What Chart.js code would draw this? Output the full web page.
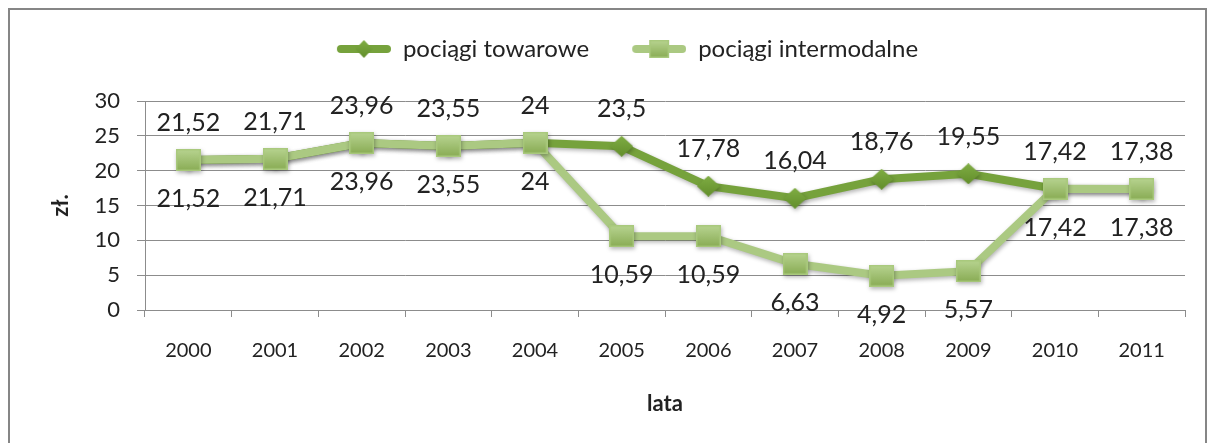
<!DOCTYPE html>
<html lang="pl">
<head>
<meta charset="utf-8">
<title>Pociągi towarowe i intermodalne</title>
<script src="https://cdn.jsdelivr.net/npm/chart.js@4/dist/chart.umd.min.js"></script>
<style>
  html, body { margin: 0; padding: 0; background: #fff; overflow: hidden; }
  #wrap { position: relative; width: 1212px; height: 443px; }
</style>
</head>
<body>
<div id="wrap"><canvas id="chart"></canvas></div>
<script>
// Years on the category axis
const years = ['2000', '2001', '2002', '2003', '2004', '2005', '2006', '2007', '2008', '2009', '2010', '2011'];

// Values in zł.
const freightTrains = [21.52, 21.71, 23.96, 23.55, 24, 23.5, 17.78, 16.04, 18.76, 19.55, 17.42, 17.38];
const intermodalTrains = [21.52, 21.71, 23.96, 23.55, 24, 10.59, 10.59, 6.63, 4.92, 5.57, 17.42, 17.38];

const seriesNames = ['pociągi towarowe', 'pociągi intermodalne'];

const yMin = 0;
const yMax = 30;
const yStep = 5;

const darkGreen = '#76a23c';
const lightGreen = '#abc982';
const gridColor = '#8c8c8c';
const textColor = '#222222';
const fontFamily = 'Lato, "Open Sans", sans-serif';

// Square marker with a vertical gradient
function squareMarker(w, h) {
  const c = document.createElement('canvas');
  c.width = w;
  c.height = h;
  const g = c.getContext('2d');
  const grad = g.createLinearGradient(0, 0, 0, h);
  grad.addColorStop(0, '#b8d491');
  grad.addColorStop(1, '#88ab53');
  g.fillStyle = grad;
  g.fillRect(0, 0, w, h);
  g.strokeStyle = '#a9c97d';
  g.lineWidth = 1.5;
  g.strokeRect(0.75, 0.75, w - 1.5, h - 1.5);
  return c;
}

// Diamond marker
function diamondMarker(w, h) {
  const c = document.createElement('canvas');
  c.width = w;
  c.height = h;
  const g = c.getContext('2d');
  const grad = g.createLinearGradient(0, 0, 0, h);
  grad.addColorStop(0, '#80ad44');
  grad.addColorStop(1, '#628e2b');
  g.fillStyle = grad;
  g.beginPath();
  g.moveTo(w / 2, 0);
  g.lineTo(w, h / 2);
  g.lineTo(w / 2, h);
  g.lineTo(0, h / 2);
  g.closePath();
  g.fill();
  return c;
}

// Legend icon: short thick line with the marker in the middle,
// with an empty margin on the left that spaces the two entries
const iconMargin = 22;
function legendIcon(color, marker) {
  const w = iconMargin + 54, h = 22;
  const c = document.createElement('canvas');
  c.width = w;
  c.height = h;
  const g = c.getContext('2d');
  g.strokeStyle = color;
  g.lineWidth = 8;
  g.lineCap = 'round';
  g.beginPath();
  g.moveTo(iconMargin + 4, h / 2);
  g.lineTo(w - 4, h / 2);
  g.stroke();
  g.drawImage(marker, iconMargin + (54 - marker.width) / 2, (h - marker.height) / 2);
  return c;
}

const freightMarker = diamondMarker(23, 21);
const intermodalMarker = squareMarker(25, 22);
const legendIcons = [
  legendIcon(darkGreen, diamondMarker(17, 18)),
  legendIcon(lightGreen, squareMarker(20, 18))
];

const fmt = v => String(v).replace('.', ',');

// Outer frame of the chart; also leaves room under the legend
const frame = {
  id: 'frame',
  beforeInit(chart) {
    const legend = chart.legend;
    if (legend) {
      const fit = legend.fit;
      legend.fit = function () {
        fit.call(this);
        this.height += 30;
      };
    }
  },
  beforeDraw(chart) {
    const ctx = chart.ctx;
    ctx.save();
    ctx.fillStyle = '#fff';
    ctx.fillRect(0, 0, chart.width, chart.height);
    ctx.strokeStyle = '#868686';
    ctx.lineWidth = 2;
    ctx.strokeRect(9, 9, 1197, 460);
    ctx.restore();
  }
};

// Soft shadow under lines and markers
const shadow = {
  id: 'shadow',
  beforeDatasetDraw(chart) {
    const ctx = chart.ctx;
    ctx.save();
    ctx.shadowColor = 'rgba(0,0,0,0.3)';
    ctx.shadowBlur = 4;
    ctx.shadowOffsetX = 1;
    ctx.shadowOffsetY = 2;
  },
  afterDatasetDraw(chart) {
    chart.ctx.restore();
  }
};

// Value labels: first series above its points, second below
const valueLabels = {
  id: 'valueLabels',
  afterDatasetsDraw(chart) {
    const ctx = chart.ctx;
    ctx.save();
    ctx.font = '25px ' + fontFamily;
    ctx.fillStyle = textColor;
    ctx.textAlign = 'center';
    ctx.textBaseline = 'middle';
    chart.data.datasets.forEach((ds, i) => {
      const meta = chart.getDatasetMeta(i);
      const shift = i === 0 ? -37 : 39;
      meta.data.forEach((pt, j) => {
        ctx.fillText(fmt(ds.data[j]), pt.x, pt.y + shift);
      });
    });
    ctx.restore();
  }
};

new Chart(document.getElementById('chart'), {
  type: 'line',
  data: {
    labels: years,
    datasets: [
      {
        label: seriesNames[0],
        data: freightTrains,
        borderColor: darkGreen,
        backgroundColor: darkGreen,
        borderWidth: 8,
        pointStyle: freightMarker,
        order: 1
      },
      {
        label: seriesNames[1],
        data: intermodalTrains,
        borderColor: lightGreen,
        backgroundColor: lightGreen,
        borderWidth: 8,
        pointStyle: intermodalMarker,
        order: 0
      }
    ]
  },
  options: {
    responsive: true,
    maintainAspectRatio: false,
    animation: false,
    layout: {
      padding: { left: 48, right: 27, top: 16, bottom: 26 }
    },
    plugins: {
      tooltip: { enabled: false },
      legend: {
        position: 'top',
        labels: {
          usePointStyle: true,
          pointStyleWidth: iconMargin + 54,
          padding: 21,
          color: textColor,
          font: { family: fontFamily, size: 24 },
          sort: (a, b) => a.datasetIndex - b.datasetIndex,
          generateLabels(chart) {
            const items = Chart.defaults.plugins.legend.labels.generateLabels(chart);
            items.forEach(item => { item.pointStyle = legendIcons[item.datasetIndex]; });
            return items;
          }
        }
      }
    },
    scales: {
      x: {
        offset: true,
        grid: { offset: true, drawOnChartArea: false, tickLength: 7, color: gridColor },
        border: { color: gridColor },
        ticks: { color: textColor, font: { family: fontFamily, size: 20 }, padding: 22, maxRotation: 0 },
        title: {
          display: true,
          text: 'lata',
          color: textColor,
          font: { family: fontFamily, size: 22, weight: 'bold' },
          padding: { top: 18, bottom: 0 }
        },
        afterFit(scale) { scale.height = 107; }
      },
      y: {
        min: yMin,
        max: yMax,
        grid: { color: gridColor, tickLength: 8 },
        border: { color: gridColor },
        ticks: { stepSize: yStep, color: textColor, font: { family: fontFamily, size: 22 }, padding: 17 },
        title: {
          display: true,
          text: 'zł.',
          color: textColor,
          font: { family: fontFamily, size: 22, weight: 'bold' },
          padding: 0
        },
        afterFit(scale) { scale.width = 97; }
      }
    }
  },
  plugins: [frame, shadow, valueLabels]
});
</script>
</body>
</html>
